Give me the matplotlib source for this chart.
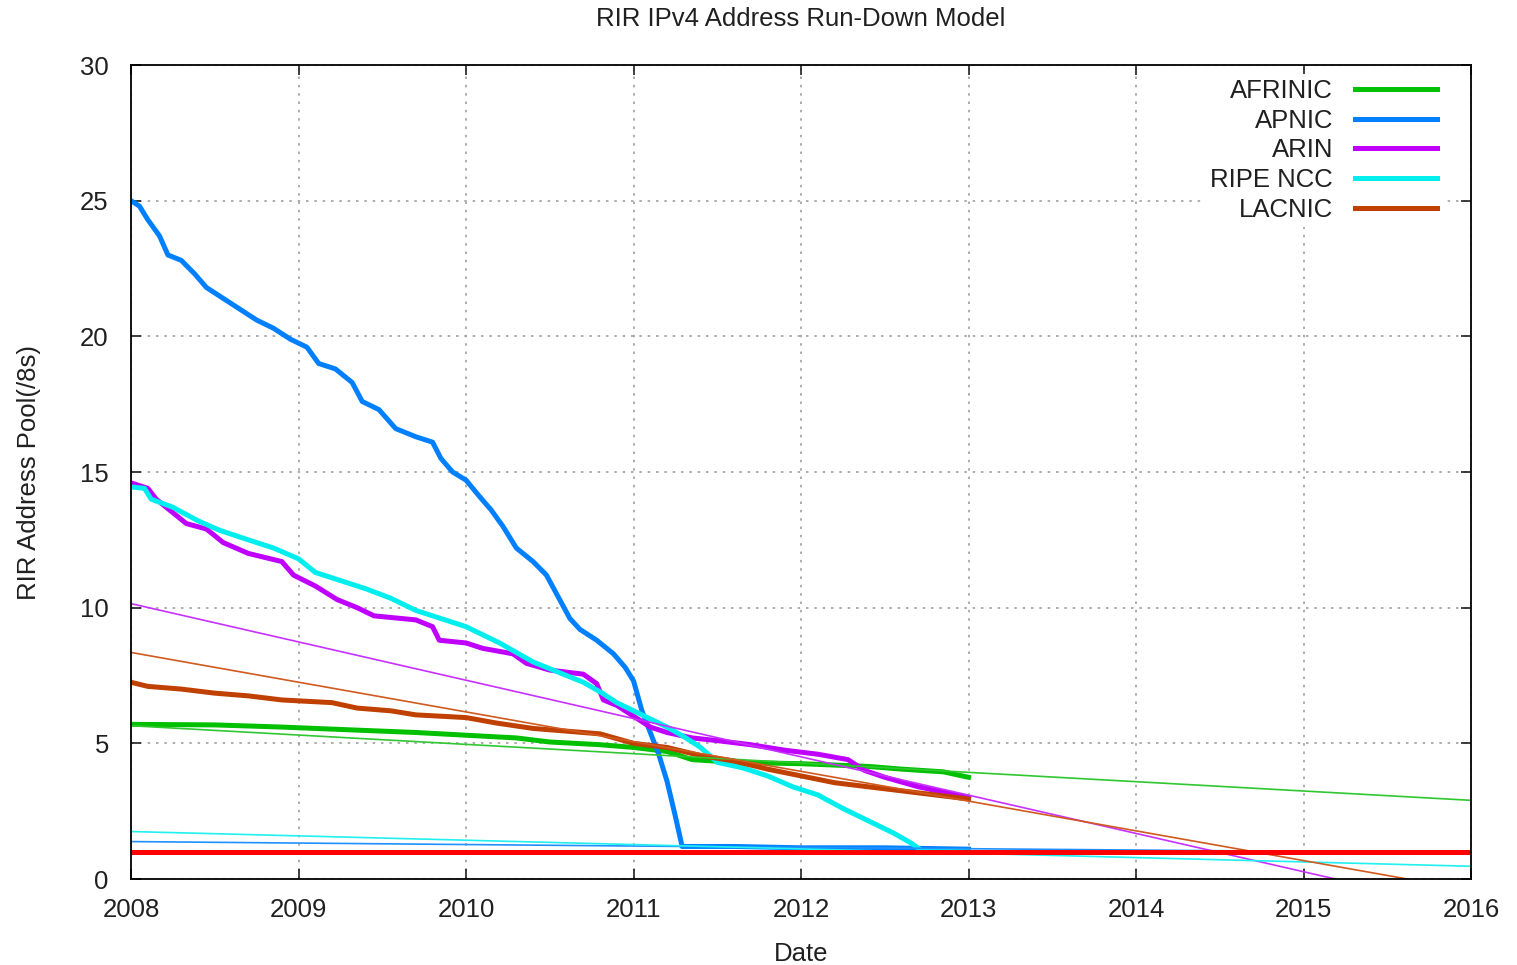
import numpy as np
import matplotlib.pyplot as plt

plt.rcParams['font.family'] = ['Liberation Sans', 'DejaVu Sans']

# registry data (year, remaining /8s)
afrinic_t = [2008.00, 2008.50, 2008.90, 2009.30, 2009.70, 2010.00, 2010.30, 2010.50, 2010.80,
             2011.00, 2011.20, 2011.35, 2011.60, 2012.00, 2012.40, 2012.60, 2012.85, 2013.00]
afrinic_v = [5.7, 5.68, 5.6, 5.5, 5.4, 5.3, 5.2, 5.05, 4.95,
             4.85, 4.7, 4.4, 4.3, 4.25, 4.15, 4.05, 3.95, 3.75]

apnic_t = [2008.00, 2008.05, 2008.10, 2008.17, 2008.22, 2008.30, 2008.38, 2008.45, 2008.55,
           2008.65, 2008.75, 2008.85, 2008.95, 2009.05, 2009.12, 2009.22, 2009.32, 2009.38,
           2009.48, 2009.58, 2009.70, 2009.80, 2009.85, 2009.92, 2010.00, 2010.08, 2010.15,
           2010.22, 2010.30, 2010.40, 2010.48, 2010.55, 2010.62, 2010.68, 2010.78, 2010.88,
           2010.95, 2011.00, 2011.05, 2011.10, 2011.15, 2011.20, 2011.25, 2011.29, 2011.60,
           2012.00, 2012.50, 2013.00]
apnic_v = [25.0, 24.8, 24.3, 23.7, 23.0, 22.8, 22.3, 21.8, 21.4,
           21.0, 20.6, 20.3, 19.9, 19.6, 19.0, 18.8, 18.3, 17.6,
           17.3, 16.6, 16.3, 16.1, 15.5, 15.0, 14.7, 14.1, 13.6,
           13.0, 12.2, 11.7, 11.2, 10.4, 9.6, 9.2, 8.8, 8.3,
           7.8, 7.3, 6.2, 5.4, 4.6, 3.6, 2.3, 1.2, 1.2,
           1.15, 1.15, 1.1]

arin_t = [2008.00, 2008.10, 2008.15, 2008.25, 2008.33, 2008.45, 2008.55, 2008.70, 2008.90,
          2008.97, 2009.10, 2009.23, 2009.35, 2009.45, 2009.70, 2009.80, 2009.84, 2010.00,
          2010.10, 2010.28, 2010.36, 2010.50, 2010.70, 2010.78, 2010.82, 2010.90, 2011.00,
          2011.10, 2011.20, 2011.35, 2011.50, 2011.70, 2011.90, 2012.10, 2012.28, 2012.38,
          2012.50, 2012.70, 2012.85, 2013.00]
arin_v = [14.6, 14.4, 14.0, 13.5, 13.1, 12.9, 12.4, 12.0, 11.7,
          11.2, 10.8, 10.3, 10.0, 9.7, 9.55, 9.3, 8.8, 8.7,
          8.5, 8.3, 7.95, 7.7, 7.55, 7.2, 6.6, 6.4, 6.0,
          5.6, 5.4, 5.2, 5.1, 4.95, 4.75, 4.6, 4.4, 4.0,
          3.75, 3.4, 3.2, 3.0]

ripe_t = [2008.00, 2008.08, 2008.12, 2008.25, 2008.40, 2008.53, 2008.70, 2008.85, 2009.00,
          2009.10, 2009.25, 2009.40, 2009.55, 2009.70, 2009.85, 2010.00, 2010.10, 2010.20,
          2010.30, 2010.40, 2010.50, 2010.60, 2010.70, 2010.80, 2010.90, 2011.00, 2011.10,
          2011.20, 2011.30, 2011.40, 2011.50, 2011.65, 2011.80, 2011.95, 2012.10, 2012.25,
          2012.40, 2012.55, 2012.65, 2012.72, 2013.00]
ripe_v = [14.45, 14.4, 14.0, 13.7, 13.2, 12.85, 12.5, 12.2, 11.8,
          11.3, 11.0, 10.7, 10.35, 9.9, 9.6, 9.3, 9.0, 8.7,
          8.35, 8.0, 7.75, 7.5, 7.25, 6.9, 6.5, 6.2, 5.9,
          5.6, 5.25, 4.85, 4.3, 4.1, 3.8, 3.4, 3.1, 2.6,
          2.15, 1.7, 1.35, 1.05, 1.0]

lacnic_t = [2008.00, 2008.10, 2008.30, 2008.50, 2008.70, 2008.90, 2009.20, 2009.35, 2009.55,
            2009.70, 2010.00, 2010.18, 2010.40, 2010.60, 2010.80, 2011.00, 2011.20, 2011.40,
            2011.60, 2011.80, 2012.00, 2012.20, 2012.40, 2012.60, 2012.80, 2013.00]
lacnic_v = [7.25, 7.1, 7.0, 6.85, 6.75, 6.6, 6.5, 6.3, 6.2,
            6.05, 5.95, 5.75, 5.55, 5.45, 5.35, 5.0, 4.85, 4.55,
            4.35, 4.05, 3.8, 3.55, 3.4, 3.25, 3.1, 2.95]

# model run-down projections (thin lines)
afrinic_fit_t = [2008.0, 2016.0]
afrinic_fit_v = [5.65, 2.9]
apnic_fit_t = [2008.0, 2011.3, 2016.0]
apnic_fit_v = [1.38, 1.2, 0.97]
arin_fit_t = [2008.0, 2015.19]
arin_fit_v = [10.15, 0.0]
ripe_fit_t = [2008.0, 2016.0]
ripe_fit_v = [1.75, 0.47]
lacnic_fit_t = [2008.0, 2015.62]
lacnic_fit_v = [8.35, 0.0]
last8_t = [2008.0, 2016.0]
last8_v = [1.0, 1.0]

FS = 18.5
TXT = '#202020'

fig = plt.figure(figsize=(15.17, 9.65), dpi=100)
ax = fig.add_axes([0.0864, 0.0891, 0.8833, 0.8435])

ax.plot(afrinic_t, afrinic_v, color='#00c000', lw=3.6, label='AFRINIC')
ax.plot(apnic_t, apnic_v, color='#0080ff', lw=3.6, label='APNIC')
ax.plot(arin_t, arin_v, color='#c000ff', lw=3.6, label='ARIN')
ax.plot(ripe_t, ripe_v, color='#00eeee', lw=3.6, label='RIPE NCC')
ax.plot(lacnic_t, lacnic_v, color='#c04000', lw=3.6, label='LACNIC')

ax.plot(afrinic_fit_t, afrinic_fit_v, color='#30c830', lw=1.2)
ax.plot(apnic_fit_t, apnic_fit_v, color='#2090ff', lw=1.2)
ax.plot(arin_fit_t, arin_fit_v, color='#c830ff', lw=1.2)
ax.plot(ripe_fit_t, ripe_fit_v, color='#20f0f0', lw=1.2)
ax.plot(lacnic_fit_t, lacnic_fit_v, color='#d05a20', lw=1.2)
ax.plot(last8_t, last8_v, color='#ff0000', lw=3.6)

ax.set_xlim(2008, 2016)
ax.set_ylim(0, 30)
ax.set_xticks(np.arange(2008, 2017, 1))
ax.set_yticks(np.arange(0, 31, 5))
ax.grid(True, color='#a0a0a0', linestyle=(0, (1.5, 3.5)), lw=1.2)
ax.tick_params(axis='x', direction='in', length=7, width=1.2, top=True, labelsize=FS, colors=TXT, pad=14)
ax.tick_params(axis='y', direction='in', length=7, width=1.2, right=True, labelsize=FS, colors=TXT, pad=16)
for s in ax.spines.values():
    s.set_linewidth(1.3)
    s.set_zorder(6)

ax.set_title('RIR IPv4 Address Run-Down Model', fontsize=FS, color=TXT, pad=28)
ax.set_xlabel('Date', fontsize=FS, color=TXT, labelpad=14)
ax.set_ylabel('RIR Address Pool(/8s)', fontsize=FS, color=TXT, labelpad=28)

leg = ax.legend(loc='upper right', bbox_to_anchor=(0.9785, 0.989), borderaxespad=0.0,
                borderpad=0.2, markerfirst=False, fontsize=FS, frameon=True, handlelength=3.2,
                labelspacing=0.22, handletextpad=0.85, fancybox=False)
leg.get_frame().set_edgecolor('none')
leg.get_frame().set_facecolor('white')
leg.get_frame().set_alpha(1.0)
for t in leg.get_texts():
    t.set_ha('right')
    t.set_color(TXT)

fig.savefig('out.png', dpi=100)
